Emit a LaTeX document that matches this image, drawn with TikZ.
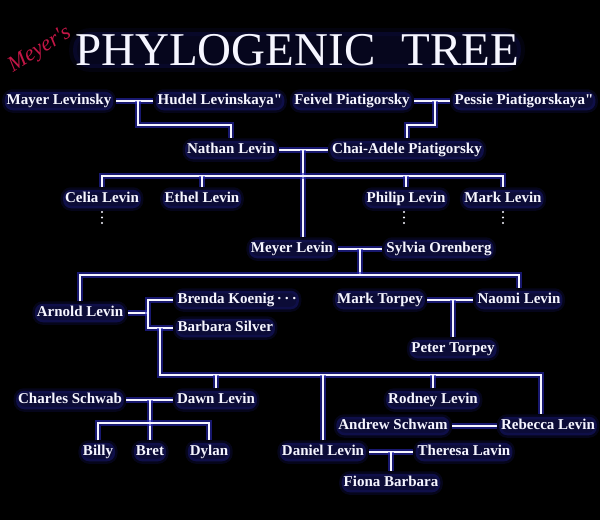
\documentclass[tikz,border=0pt]{standalone}
\usepackage{fontspec}
\setmainfont{Liberation Serif}[Ligatures=TeXOff]
\usetikzlibrary{backgrounds}

\definecolor{glowdark}{RGB}{40,40,185}
\definecolor{namewhite}{RGB}{246,246,255}
\definecolor{inkred}{RGB}{195,22,70}

\tikzset{
  halo/.style={fill=glowdark, fill opacity=0.3, draw=glowdark, draw opacity=0.14,
    line width=5pt, rounded corners=8pt, text opacity=1},
  person/.style={halo, text=namewhite, font=\bfseries\fontsize{15}{17}\selectfont,
    inner sep=2pt, text height=11pt, text depth=3.5pt},
  link/.style={draw=namewhite, line width=1.7pt,
    preaction={draw=glowdark, draw opacity=0.6, line width=5.5pt}},
  title/.style={halo, fill opacity=0.16, draw opacity=0.08, line width=8pt,
    rounded corners=16pt, text=namewhite, font=\fontsize{47}{50}\selectfont, inner sep=2pt},
  script/.style={text=inkred, font=\itshape\fontsize{22}{22}\selectfont, inner sep=0pt}
}

\begin{document}
\begin{tikzpicture}[x=1pt,y=-1pt]
            \useasboundingbox (0,0) rectangle (600,520);

            \node[title] (title) at (297,50) {PHYLOGENIC\hspace{0.55em}TREE};
            \node[script, rotate=32] (sig) at (40,50) {Meyer's};

            \node[person] (mayer) at (59,101) {Mayer Levinsky};
            \node[person] (hudel) at (220,101) {Hudel Levinskaya"};
            \node[person] (feivel) at (352,101) {Feivel Piatigorsky};
            \node[person] (pessie) at (524,101) {Pessie Piatigorskaya"};

            \node[person] (nathan) at (231,150) {Nathan Levin};
            \node[person] (chai) at (407,150) {Chai-Adele Piatigorsky};

            \node[person] (celia) at (102,199) {Celia Levin};
            \node[person] (ethel) at (202,199) {Ethel Levin};
            \node[person] (philip) at (406,199) {Philip Levin};
            \node[person] (marklevin) at (503,199) {Mark Levin};

            \node[person] (meyer) at (292,249) {Meyer Levin};
            \node[person] (sylvia) at (439,249) {Sylvia Orenberg};

            \node[person] (arnold) at (80,313) {Arnold Levin};
            \node[person, anchor=west] (brenda) at (173,300) {Brenda Koenig\,·\,·\,·};
            \node[person, anchor=west] (barbara) at (173,328) {Barbara Silver};
            \node[person] (marktorpey) at (380,300) {Mark Torpey};
            \node[person] (naomi) at (519,300) {Naomi Levin};
            \node[person] (peter) at (453,349) {Peter Torpey};

            \node[person] (charles) at (70,400) {Charles Schwab};
            \node[person] (dawn) at (216,400) {Dawn Levin};
            \node[person] (rodney) at (433,400) {Rodney Levin};
            \node[person] (andrew) at (393,426) {Andrew Schwam};
            \node[person] (rebecca) at (548,426) {Rebecca Levin};

            \node[person] (billy) at (98,452) {Billy};
            \node[person] (bret) at (150,452) {Bret};
            \node[person] (dylan) at (209,452) {Dylan};
            \node[person] (daniel) at (323,452) {Daniel Levin};
            \node[person] (theresa) at (464,452) {Theresa Lavin};
            \node[person] (fiona) at (391,483) {Fiona Barbara};

            % more children not shown
            \foreach \x in {102,404,503}
              \foreach \y in {212,217.5,223}
                \fill[namewhite] (\x,\y) circle (1.1pt);

            \coordinate (wed1) at (138,101);
            \coordinate (wed2) at (435,101);
            \coordinate (wed3) at (303,150);
            \coordinate (kids1) at (303,176);
            \coordinate (wed4) at (360,249);
            \coordinate (kids2) at (360,275);
            \coordinate (fork) at (148,313);
            \coordinate (wed5) at (160,328);
            \coordinate (kids3) at (541,375);
            \coordinate (wed6) at (453,300);
            \coordinate (wed7) at (150,400);
            \coordinate (kids4) at (150,423);
            \coordinate (wed8) at (391,452);

            \begin{scope}[on background layer]
            \fill[black] (0,0) rectangle (600,520); %Background

            \draw[link] (mayer) -- (hudel);
            \draw[link] (feivel) -- (pessie);
            \draw[link] (wed1) -- ++(0,24) -| (nathan.north);
            \draw[link] (wed2) -- ++(0,24) -| (chai.north);

            \draw[link] (nathan) -- (chai);
            \draw[link] (wed3) -- (wed3 |- meyer.north);
            \draw[link] (celia.north) |- (kids1) -| (marklevin.north);
            \draw[link] (ethel.north) -- (ethel.north |- kids1);
            \draw[link] (philip.north) -- (philip.north |- kids1);

            \draw[link] (meyer) -- (sylvia);
            \draw[link] (wed4) -- (kids2);
            \draw[link] (arnold.north) |- (kids2) -| (naomi.north);

            \draw[link] (arnold) -- (fork);
            \draw[link] (brenda.west) -| (fork) |- (barbara.west);
            \draw[link] (wed5) |- (kids3) -- (kids3 |- rebecca.north);
            \draw[link] (dawn.north) -- (dawn.north |- kids3);
            \draw[link] (daniel.north) -- (daniel.north |- kids3);
            \draw[link] (rodney.north) -- (rodney.north |- kids3);

            \draw[link] (marktorpey) -- (naomi);
            \draw[link] (wed6) -- (wed6 |- peter.north);

            \draw[link] (charles) -- (dawn);
            \draw[link] (wed7) -- (wed7 |- bret.north);
            \draw[link] (billy.north) |- (kids4) -| (dylan.north);

            \draw[link] (andrew) -- (rebecca);
            \draw[link] (daniel) -- (theresa);
            \draw[link] (wed8) -- (wed8 |- fiona.north);
            \end{scope}
        \end{tikzpicture}
\end{document}
